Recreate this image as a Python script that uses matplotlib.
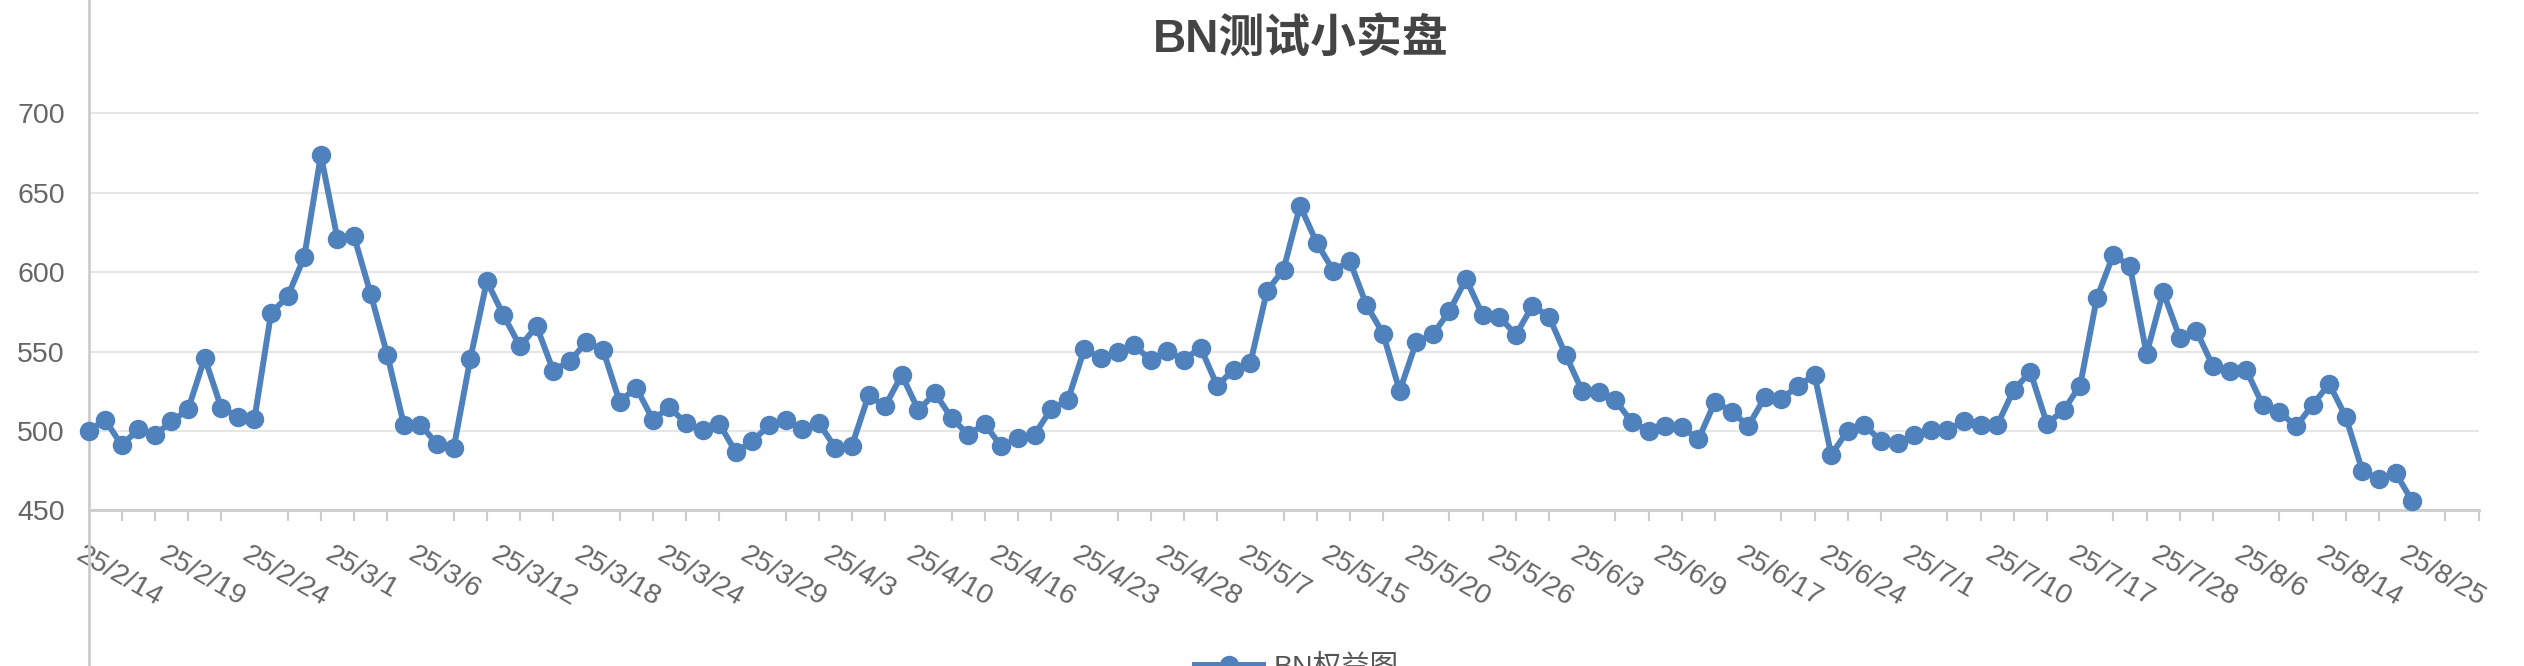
# BN测试小实盘 权益曲线

import matplotlib
matplotlib.use('Agg')
import matplotlib.pyplot as plt
import matplotlib.transforms as mtransforms
from matplotlib.lines import Line2D

plt.rcParams['font.family'] = ['Liberation Sans', 'Noto Sans CJK SC', 'DejaVu Sans']

# 权益数据 (每个点一个交易日, 从图上读出)
equity = [500, 507, 491, 501, 497.5, 506, 513.5, 546, 514.5, 509,
          507.7, 574.2, 584.7, 609.6, 673.7, 620.9, 622.5, 586.3, 548, 504,
          504, 491.6, 489, 545.2, 594.3, 572.9, 553.3, 565.9, 538, 543.9,
          556, 551.1, 518.4, 527.3, 507.1, 514.9, 504.8, 500.3, 504.5, 486.7,
          493.5, 503.6, 507.1, 500.9, 505, 489.4, 490.8, 522.4, 515.7, 535.3,
          513, 523.8, 508.2, 497.7, 504.2, 490.2, 495.6, 497.7, 513.8, 519.2,
          551.4, 546, 549.8, 554.1, 544.4, 550.3, 544.7, 552.5, 528.6, 538.5,
          542.5, 588.1, 601.6, 641.8, 618.5, 601, 606.9, 579.3, 561.3, 525.1,
          556, 560.8, 575.5, 595.7, 572.9, 572, 560.5, 578.8, 572, 547.9,
          525.1, 524.6, 519.2, 505.5, 500.2, 502.8, 502.3, 494.8, 518.4, 512.2,
          503.1, 521.1, 520.3, 528.3, 535.3, 484.9, 500.2, 503.6, 493.7, 492.4,
          497.5, 500.4, 500.4, 506.3, 503.6, 503.6, 525.9, 537.2, 504.5, 513,
          528.6, 583.6, 611, 603.7, 548.4, 587.6, 558.6, 563.2, 540.7, 538,
          538.5, 516.3, 512.2, 502.8, 516.3, 529.7, 509, 474.9, 469.6, 473.6,
          455.9]

# x轴日期标签 (每5个点显示一个)
date_labels = ['25/2/14', '25/2/19', '25/2/24', '25/3/1', '25/3/6', '25/3/12',
               '25/3/18', '25/3/24', '25/3/29', '25/4/3', '25/4/10', '25/4/16',
               '25/4/23', '25/4/28', '25/5/7', '25/5/15', '25/5/20', '25/5/26',
               '25/6/3', '25/6/9', '25/6/17', '25/6/24', '25/7/1', '25/7/10',
               '25/7/17', '25/7/28', '25/8/6', '25/8/14', '25/8/25']
label_step = 5
n_categories = 145   # 类目轴比数据多几个空位
y_ticks = [450, 500, 550, 600, 650, 700]

W, H = 2524, 666
fig = plt.figure(figsize=(W / 100, H / 100), dpi=100)
ax = fig.add_axes([88.5 / W, (H - 510.3) / H, (2478.5 - 88.5) / W, (510.3 - 34) / H])

blue = '#4f81bd'
x = list(range(len(equity)))
ax.plot(x, equity, color=blue, lw=4.3, marker='o', markersize=13,
        label='BN权益图', clip_on=False, zorder=3)

ax.set_xlim(0, n_categories - 1)
ax.set_ylim(450, 750)
ax.set_axisbelow(True)

# 网格和坐标轴
ax.set_yticks(y_ticks)
ax.grid(axis='y', color='#e6e6e6', lw=1.5)
for s in ['top', 'right', 'left']:
    ax.spines[s].set_visible(False)
ax.spines['bottom'].set_color('#cccccc')
ax.spines['bottom'].set_linewidth(2)
ax.tick_params(axis='y', length=0, pad=17, labelsize=20.5, labelcolor='#666666')

# 小刻度每两个点一个, 大刻度只放标签
ax.set_xticks(list(range(0, n_categories, 2)), minor=True)
ax.set_xticks(list(range(0, len(date_labels) * label_step, label_step)))
ax.set_xticklabels(date_labels, rotation=-30, rotation_mode='anchor',
                   ha='left', va='baseline')
ax.tick_params(axis='x', which='minor', length=8, width=1.5, color='#cccccc')
ax.tick_params(axis='x', which='major', length=0, pad=35.3,
               labelsize=20.5, labelcolor='#666666')
shift = mtransforms.ScaledTranslation(-14 / 100, 0, fig.dpi_scale_trans)
for lab in ax.get_xticklabels():
    lab.set_transform(lab.get_transform() + shift)

# 左侧竖线 (贯穿整个高度)
ax.plot([0, 0], [0, 1], color='#cccccc', lw=2,
        transform=mtransforms.blended_transform_factory(ax.transData, fig.transFigure),
        clip_on=False, zorder=1)

# 标题
fig.suptitle('BN测试小实盘', x=1301 / W, y=1 - 41 / H, va='center',
             fontsize=33, fontweight='bold', color='#444444')

# 图例 (在底部, 只露出一半)
fig.legend(loc='center left', bbox_to_anchor=(1195 / W, (H - 668) / H),
           bbox_transform=fig.transFigure, frameon=False, fontsize=20.5,
           handlelength=2.4, handletextpad=0.35, borderpad=0, borderaxespad=0,
           labelcolor='#555555')

fig.savefig('out.png', dpi=100)
